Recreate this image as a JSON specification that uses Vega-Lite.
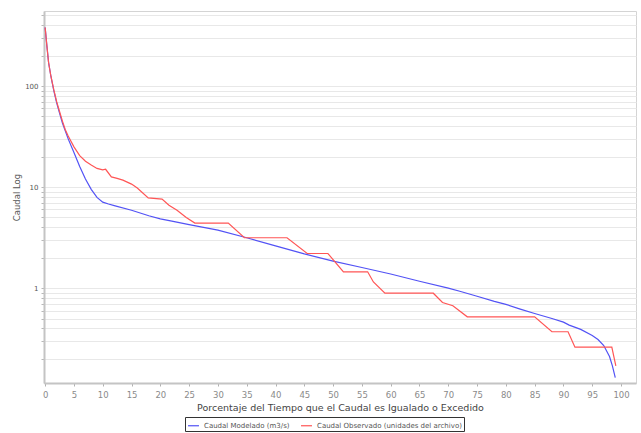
{
  "$schema": "https://vega.github.io/schema/vega-lite/v6.json",
  "width": 592,
  "height": 372,
  "autosize": {"type": "none"},
  "padding": {"left": 44, "top": 11, "right": 5, "bottom": 50},
  "background": "white",
  "config": {
    "font": "DejaVu Sans",
    "view": {"stroke": "#d4d4d4", "strokeWidth": 1}
  },
  "data": {
    "values": [
      {"p": 0, "q": 380, "serie": "Caudal Modelado (m3/s)"},
      {"p": 0.3, "q": 250, "serie": "Caudal Modelado (m3/s)"},
      {"p": 0.6, "q": 170, "serie": "Caudal Modelado (m3/s)"},
      {"p": 1, "q": 125, "serie": "Caudal Modelado (m3/s)"},
      {"p": 1.5, "q": 90, "serie": "Caudal Modelado (m3/s)"},
      {"p": 2, "q": 68, "serie": "Caudal Modelado (m3/s)"},
      {"p": 2.5, "q": 54, "serie": "Caudal Modelado (m3/s)"},
      {"p": 3, "q": 43, "serie": "Caudal Modelado (m3/s)"},
      {"p": 4, "q": 30, "serie": "Caudal Modelado (m3/s)"},
      {"p": 5, "q": 22, "serie": "Caudal Modelado (m3/s)"},
      {"p": 6, "q": 16, "serie": "Caudal Modelado (m3/s)"},
      {"p": 7, "q": 12, "serie": "Caudal Modelado (m3/s)"},
      {"p": 8, "q": 9.5, "serie": "Caudal Modelado (m3/s)"},
      {"p": 9, "q": 7.9, "serie": "Caudal Modelado (m3/s)"},
      {"p": 10, "q": 7.1, "serie": "Caudal Modelado (m3/s)"},
      {"p": 11, "q": 6.8, "serie": "Caudal Modelado (m3/s)"},
      {"p": 12, "q": 6.55, "serie": "Caudal Modelado (m3/s)"},
      {"p": 15, "q": 5.9, "serie": "Caudal Modelado (m3/s)"},
      {"p": 18, "q": 5.2, "serie": "Caudal Modelado (m3/s)"},
      {"p": 20, "q": 4.85, "serie": "Caudal Modelado (m3/s)"},
      {"p": 22, "q": 4.6, "serie": "Caudal Modelado (m3/s)"},
      {"p": 25, "q": 4.25, "serie": "Caudal Modelado (m3/s)"},
      {"p": 30, "q": 3.75, "serie": "Caudal Modelado (m3/s)"},
      {"p": 35, "q": 3.15, "serie": "Caudal Modelado (m3/s)"},
      {"p": 40, "q": 2.62, "serie": "Caudal Modelado (m3/s)"},
      {"p": 45, "q": 2.18, "serie": "Caudal Modelado (m3/s)"},
      {"p": 50, "q": 1.85, "serie": "Caudal Modelado (m3/s)"},
      {"p": 55, "q": 1.6, "serie": "Caudal Modelado (m3/s)"},
      {"p": 60, "q": 1.38, "serie": "Caudal Modelado (m3/s)"},
      {"p": 65, "q": 1.17, "serie": "Caudal Modelado (m3/s)"},
      {"p": 70, "q": 1.0, "serie": "Caudal Modelado (m3/s)"},
      {"p": 72, "q": 0.93, "serie": "Caudal Modelado (m3/s)"},
      {"p": 75, "q": 0.83, "serie": "Caudal Modelado (m3/s)"},
      {"p": 78, "q": 0.74, "serie": "Caudal Modelado (m3/s)"},
      {"p": 80, "q": 0.69, "serie": "Caudal Modelado (m3/s)"},
      {"p": 82.5, "q": 0.62, "serie": "Caudal Modelado (m3/s)"},
      {"p": 85, "q": 0.56, "serie": "Caudal Modelado (m3/s)"},
      {"p": 88, "q": 0.5, "serie": "Caudal Modelado (m3/s)"},
      {"p": 90, "q": 0.46, "serie": "Caudal Modelado (m3/s)"},
      {"p": 91, "q": 0.43, "serie": "Caudal Modelado (m3/s)"},
      {"p": 93, "q": 0.39, "serie": "Caudal Modelado (m3/s)"},
      {"p": 95, "q": 0.34, "serie": "Caudal Modelado (m3/s)"},
      {"p": 96, "q": 0.31, "serie": "Caudal Modelado (m3/s)"},
      {"p": 97, "q": 0.27, "serie": "Caudal Modelado (m3/s)"},
      {"p": 98, "q": 0.21, "serie": "Caudal Modelado (m3/s)"},
      {"p": 98.5, "q": 0.17, "serie": "Caudal Modelado (m3/s)"},
      {"p": 99, "q": 0.13, "serie": "Caudal Modelado (m3/s)"},

      {"p": 0, "q": 380, "serie": "Caudal Observado (unidades del archivo)"},
      {"p": 0.3, "q": 250, "serie": "Caudal Observado (unidades del archivo)"},
      {"p": 0.6, "q": 170, "serie": "Caudal Observado (unidades del archivo)"},
      {"p": 1, "q": 125, "serie": "Caudal Observado (unidades del archivo)"},
      {"p": 1.5, "q": 92, "serie": "Caudal Observado (unidades del archivo)"},
      {"p": 2, "q": 70, "serie": "Caudal Observado (unidades del archivo)"},
      {"p": 2.5, "q": 56, "serie": "Caudal Observado (unidades del archivo)"},
      {"p": 3, "q": 45, "serie": "Caudal Observado (unidades del archivo)"},
      {"p": 3.5, "q": 37, "serie": "Caudal Observado (unidades del archivo)"},
      {"p": 4, "q": 32, "serie": "Caudal Observado (unidades del archivo)"},
      {"p": 5, "q": 25, "serie": "Caudal Observado (unidades del archivo)"},
      {"p": 6, "q": 20.5, "serie": "Caudal Observado (unidades del archivo)"},
      {"p": 7, "q": 18, "serie": "Caudal Observado (unidades del archivo)"},
      {"p": 8, "q": 16.5, "serie": "Caudal Observado (unidades del archivo)"},
      {"p": 9, "q": 15.3, "serie": "Caudal Observado (unidades del archivo)"},
      {"p": 10, "q": 14.8, "serie": "Caudal Observado (unidades del archivo)"},
      {"p": 10.5, "q": 15.0, "serie": "Caudal Observado (unidades del archivo)"},
      {"p": 11.5, "q": 12.6, "serie": "Caudal Observado (unidades del archivo)"},
      {"p": 12.5, "q": 12.2, "serie": "Caudal Observado (unidades del archivo)"},
      {"p": 13.5, "q": 11.7, "serie": "Caudal Observado (unidades del archivo)"},
      {"p": 15, "q": 10.7, "serie": "Caudal Observado (unidades del archivo)"},
      {"p": 16, "q": 9.8, "serie": "Caudal Observado (unidades del archivo)"},
      {"p": 17.9, "q": 7.8, "serie": "Caudal Observado (unidades del archivo)"},
      {"p": 20.3, "q": 7.6, "serie": "Caudal Observado (unidades del archivo)"},
      {"p": 21.5, "q": 6.6, "serie": "Caudal Observado (unidades del archivo)"},
      {"p": 22.9, "q": 5.9, "serie": "Caudal Observado (unidades del archivo)"},
      {"p": 24.5, "q": 5.0, "serie": "Caudal Observado (unidades del archivo)"},
      {"p": 26, "q": 4.4, "serie": "Caudal Observado (unidades del archivo)"},
      {"p": 31.8, "q": 4.4, "serie": "Caudal Observado (unidades del archivo)"},
      {"p": 34.6, "q": 3.15, "serie": "Caudal Observado (unidades del archivo)"},
      {"p": 42, "q": 3.15, "serie": "Caudal Observado (unidades del archivo)"},
      {"p": 45.5, "q": 2.2, "serie": "Caudal Observado (unidades del archivo)"},
      {"p": 49.1, "q": 2.2, "serie": "Caudal Observado (unidades del archivo)"},
      {"p": 51.8, "q": 1.45, "serie": "Caudal Observado (unidades del archivo)"},
      {"p": 56, "q": 1.45, "serie": "Caudal Observado (unidades del archivo)"},
      {"p": 57, "q": 1.15, "serie": "Caudal Observado (unidades del archivo)"},
      {"p": 59, "q": 0.89, "serie": "Caudal Observado (unidades del archivo)"},
      {"p": 67.4, "q": 0.89, "serie": "Caudal Observado (unidades del archivo)"},
      {"p": 69, "q": 0.72, "serie": "Caudal Observado (unidades del archivo)"},
      {"p": 70.8, "q": 0.67, "serie": "Caudal Observado (unidades del archivo)"},
      {"p": 73.3, "q": 0.52, "serie": "Caudal Observado (unidades del archivo)"},
      {"p": 85, "q": 0.52, "serie": "Caudal Observado (unidades del archivo)"},
      {"p": 88, "q": 0.37, "serie": "Caudal Observado (unidades del archivo)"},
      {"p": 90.8, "q": 0.37, "serie": "Caudal Observado (unidades del archivo)"},
      {"p": 92, "q": 0.26, "serie": "Caudal Observado (unidades del archivo)"},
      {"p": 98.4, "q": 0.26, "serie": "Caudal Observado (unidades del archivo)"},
      {"p": 99.1, "q": 0.17, "serie": "Caudal Observado (unidades del archivo)"}
    ]
  },
  "mark": {"type": "line", "strokeWidth": 1.2, "clip": true},
  "encoding": {
    "x": {
      "field": "p",
      "type": "quantitative",
      "scale": {"domain": [-0.2, 102.6], "nice": false, "zero": false},
      "axis": {
        "title": "Porcentaje del Tiempo que el Caudal es Igualado o Excedido",
        "values": [0, 5, 10, 15, 20, 25, 30, 35, 40, 45, 50, 55, 60, 65, 70, 75, 80, 85, 90, 95, 100],
        "grid": false,
        "domainColor": "#c4c4c4",
        "domainWidth": 2,
        "tickColor": "#b0b0b0",
        "tickSize": 3,
        "labelColor": "#8a8a8a",
        "labelFontSize": 8.5,
        "labelPadding": 4,
        "titleColor": "#444444",
        "titleFontSize": 9.5,
        "titleFontWeight": "normal",
        "titlePadding": 4
      }
    },
    "y": {
      "field": "q",
      "type": "quantitative",
      "scale": {"type": "log", "domain": [0.115, 553], "nice": false},
      "axis": {
        "title": "Caudal Log",
        "values": [0.2, 0.3, 0.4, 0.5, 0.6, 0.7, 0.8, 0.9, 1, 2, 3, 4, 5, 6, 7, 8, 9, 10, 20, 30, 40, 50, 60, 70, 80, 90, 100, 200, 300, 400, 500],
        "labelExpr": "datum.value == 1 || datum.value == 10 || datum.value == 100 ? format(datum.value, 'd') : ''",
        "grid": true,
        "gridColor": "#e8e8e8",
        "gridWidth": 1,
        "domainColor": "#c4c4c4",
        "domainWidth": 2,
        "tickColor": "#b8b8b8",
        "tickSize": 3,
        "labelColor": "#555555",
        "labelFontSize": 7,
        "labelPadding": 3,
        "titleColor": "#555555",
        "titleFontSize": 8.5,
        "titleFontWeight": "normal",
        "titlePadding": 3
      }
    },
    "color": {
      "field": "serie",
      "type": "nominal",
      "scale": {
        "domain": ["Caudal Modelado (m3/s)", "Caudal Observado (unidades del archivo)"],
        "range": ["#5252f5", "#ff5555"]
      },
      "legend": {
        "title": null,
        "orient": "none",
        "legendX": 141,
        "legendY": 406,
        "direction": "horizontal",
        "symbolType": "stroke",
        "symbolSize": 120,
        "symbolStrokeWidth": 1.2,
        "labelFontSize": 7,
        "labelColor": "#555555",
        "columnPadding": 8,
        "padding": 2,
        "strokeColor": "#333333",
        "fillColor": "white"
      }
    }
  }
}
